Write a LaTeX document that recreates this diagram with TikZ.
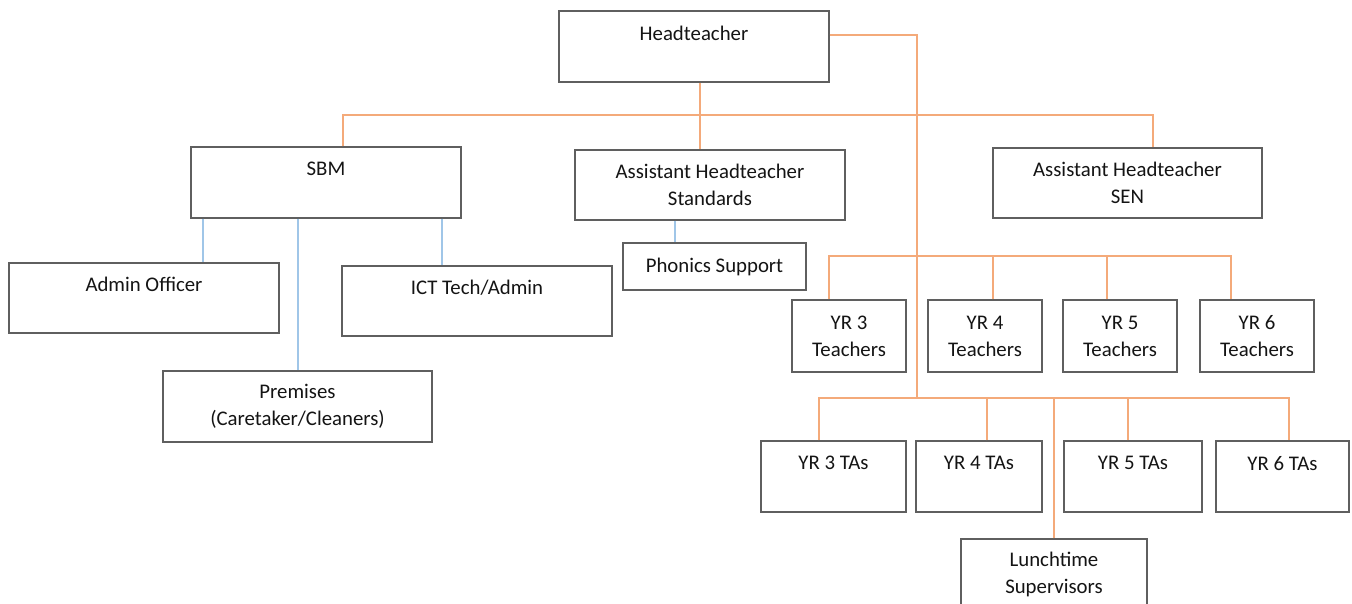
\documentclass[tikz,border=0pt]{standalone}
\usepackage{fontspec}
\setmainfont{Carlito}
\definecolor{orgline}{RGB}{244,170,122}
\definecolor{bluline}{RGB}{160,198,232}
\definecolor{boxgray}{RGB}{95,95,95}
\definecolor{txtgray}{RGB}{20,20,20}
\tikzset{
  post/.style={draw=boxgray, line width=1.3pt, minimum height=71pt, inner sep=0pt,
    align=center, text=txtgray, font=\fontsize{20.8}{27}\selectfont},
  oline/.style={draw=orgline, line width=1.3pt},
  bline/.style={draw=bluline, line width=1.3pt}
}
\begin{document}
\begin{tikzpicture}[x=1pt,y=-1pt]
\clip (0,0) rectangle (1352,604);
\fill[white] (0,0) rectangle (1352,604);
% top
\node[post, minimum width=270pt] (head) at (694,46.5){Headteacher\\~};
\node[post, minimum width=270pt] (sbm) at (326,182.5){SBM\\~};
\node[post, minimum width=270pt, minimum height=70pt] (ahs) at (710,185){Assistant Headteacher\\Standards};
\node[post, minimum width=269pt, minimum height=70pt] (sen) at (1127.5,183){Assistant Headteacher\\SEN};
% SBM team
\node[post, minimum width=270pt, minimum height=70pt] (admin) at (144,298){Admin Officer\\~};
\node[post, minimum width=270pt, minimum height=70pt] (ict) at (477,301){ICT Tech/Admin\\~};
\node[post, minimum width=269pt] (prem) at (297.5,406.5){Premises\\(Caretaker/Cleaners)};
\node[post, minimum width=183pt, minimum height=47pt] (phon) at (714.5,266.5){Phonics Support};
% teachers
\node[post, minimum width=114pt, minimum height=72pt] (yr3t) at (849,336){YR 3\\Teachers};
\node[post, minimum width=114pt, minimum height=72pt] (yr4t) at (985,336){YR 4\\Teachers};
\node[post, minimum width=114pt, minimum height=72pt] (yr5t) at (1120,336){YR 5\\Teachers};
\node[post, minimum width=114pt, minimum height=72pt] (yr6t) at (1257,336){YR 6\\Teachers};
% TAs
\node[post, minimum width=145pt] (yr3a) at (833.5,476.5){YR 3 TAs\\~};
\node[post, minimum width=126pt] (yr4a) at (979,476.5){YR 4 TAs\\~};
\node[post, minimum width=138pt] (yr5a) at (1133,476.5){YR 5 TAs\\~};
\node[post, minimum width=133pt] (yr6a) at (1282.5,476.5){YR 6 TAs\\~};
\node[post, minimum width=186pt] (lunch) at (1054,574.5){Lunchtime\\Supervisors};
% bus points
\coordinate (bus1) at (700,115);
\coordinate (trunk) at (917,35);
\coordinate (bus2) at (917,256);
\coordinate (bus3) at (917,398);
% orange lines
\draw[oline] ([xshift=6pt]head.south) -- ([xshift=-10pt]ahs.north);
\draw[oline] ([xshift=17pt]sbm.north) |- (bus1) -| ([xshift=25.5pt]sen.north);
\draw[oline] (head.east |- trunk) -| (bus3);
\draw[oline] ([xshift=-20pt]yr3t.north) |- (bus2) -| ([xshift=-26pt]yr6t.north);
\draw[oline] ([xshift=8pt]yr4t.north) -- ([xshift=8pt]yr4t.north |- bus2);
\draw[oline] ([xshift=-13pt]yr5t.north) -- ([xshift=-13pt]yr5t.north |- bus2);
\draw[oline] ([xshift=-14.5pt]yr3a.north) |- (bus3) -| ([xshift=6.5pt]yr6a.north);
\draw[oline] ([xshift=8pt]yr4a.north) -- ([xshift=8pt]yr4a.north |- bus3);
\draw[oline] ([xshift=-5pt]yr5a.north) -- ([xshift=-5pt]yr5a.north |- bus3);
\draw[oline] (lunch.north) -- (lunch.north |- bus3);
% blue lines
\draw[bline] ([xshift=-123pt]sbm.south) -- ([xshift=-123pt]sbm.south |- admin.north);
\draw[bline] ([xshift=-28pt]sbm.south) -- ([xshift=-28pt]sbm.south |- prem.north);
\draw[bline] ([xshift=116pt]sbm.south) -- ([xshift=116pt]sbm.south |- ict.north);
\draw[bline] ([xshift=-35pt]ahs.south) -- ([xshift=-35pt]ahs.south |- phon.north);
\end{tikzpicture}
\end{document}
